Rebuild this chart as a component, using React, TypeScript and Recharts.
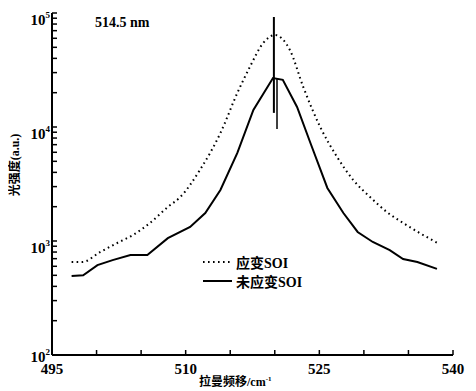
import { LineChart, Line, XAxis, YAxis, Label } from 'recharts';

// Raman shift (cm^-1) and intensity (a.u.)
const STRAINED_SHIFT = [497.2, 498.4, 500.4, 502.3, 504.1, 506.0, 508.0, 509.4, 511.6, 513.9, 515.8, 517.2, 518.7, 520.0, 521.7, 523.2, 525.1, 527.0, 528.8, 530.7, 532.6, 534.4, 536.3, 538.5];
const STRAINED_INTENSITY = [655, 655, 800, 960, 1130, 1440, 1990, 2430, 4200, 8850, 19900, 33600, 54600, 64100, 47300, 22400, 10000, 5450, 3430, 2430, 1790, 1440, 1170, 940];

const UNSTRAINED_SHIFT = [497.2, 498.5, 500.1, 501.8, 503.8, 505.7, 508.0, 510.5, 512.2, 513.9, 515.8, 517.6, 519.8, 520.9, 522.5, 524.0, 525.9, 527.7, 529.3, 531.0, 532.9, 534.4, 536.0, 538.2];
const UNSTRAINED_INTENSITY = [493, 500, 615, 680, 753, 753, 1060, 1330, 1760, 2800, 5920, 14100, 26900, 25900, 15000, 7240, 2920, 1760, 1200, 980, 830, 695, 655, 570];

// reference Si line marks
const SPIKE_A = { shift: 519.9, from: 13300, to: 92200 };
const SPIKE_B = { shift: 520.25, from: 9600, to: 26900 };

const X_TICKS = [495, 500, 505, 510, 515, 520, 525, 530, 535, 540];
const X_LABELED = [495, 510, 525, 540];
const Y_TICKS = [100, 200, 300, 400, 500, 600, 700, 800, 900, 1000, 2000, 3000, 4000, 5000, 6000, 7000, 8000, 9000, 10000, 20000, 30000, 40000, 50000, 60000, 70000, 80000, 90000, 100000];

const SERIES = [
  { key: 'strained', name: '应变SOI', dash: '1.6 3.4' },
  { key: 'unstrained', name: '未应变SOI', dash: '' },
];

const toPoints = (xs: number[], ys: number[]) => xs.map((x, i) => ({ x, y: ys[i] }));
const strainedData = toPoints(STRAINED_SHIFT, STRAINED_INTENSITY);
const unstrainedData = toPoints(UNSTRAINED_SHIFT, UNSTRAINED_INTENSITY);
const spikeA = [{ x: SPIKE_A.shift, y: SPIKE_A.from }, { x: SPIKE_A.shift, y: SPIKE_A.to }];
const spikeB = [{ x: SPIKE_B.shift, y: SPIKE_B.from }, { x: SPIKE_B.shift, y: SPIKE_B.to }];

const NUM_FONT = '"Liberation Serif", "Times New Roman", serif';
const MIX_FONT = '"Liberation Serif", "Noto Sans CJK SC", serif';

function XTick(props: any) {
  const { x, y, payload } = props;
  const v = payload.value;
  return (
    <g>
      <line x1={x} x2={x} y1={y} y2={y - 5} stroke="#000" strokeWidth={1.5} />
      {X_LABELED.includes(v) && (
        <text x={x} y={y + 19} textAnchor="middle" fontFamily={NUM_FONT} fontWeight="bold" fontSize={15} fill="#000">
          {v}
        </text>
      )}
    </g>
  );
}

function YTick(props: any) {
  const { x, y, payload } = props;
  const v = payload.value;
  const exp = Math.log10(v);
  const decade = Math.abs(exp - Math.round(exp)) < 1e-6;
  const dy = v === Y_TICKS[0] ? 7 : 12;
  return (
    <g>
      <line x1={x} x2={x + 5} y1={y} y2={y} stroke="#000" strokeWidth={1.5} />
      {decade && (
        <text x={x - 2} y={y + dy} textAnchor="end" fontFamily={NUM_FONT} fontWeight="bold" fontSize={15} fill="#000">
          <tspan>10</tspan>
          <tspan dy={-7} fontSize={9}>{Math.round(exp)}</tspan>
        </text>
      )}
    </g>
  );
}

function LegendBox() {
  return (
    <div style={{ position: 'absolute', left: 195, top: 244 }}>
      {SERIES.map((s) => (
        <div key={s.key} style={{ display: 'flex', alignItems: 'center', height: 19 }}>
          <svg width={30} height={10} style={{ marginRight: 3 }}>
            <line x1={0} x2={29} y1={5} y2={5} stroke="#000" strokeWidth={2} strokeDasharray={s.dash || undefined} />
          </svg>
          <span style={{ fontFamily: MIX_FONT, fontWeight: 'bold', fontSize: 14, color: '#000' }}>{s.name}</span>
        </div>
      ))}
    </div>
  );
}

export default function App() {
  return (
    <div style={{ position: 'relative', width: 460, height: 383, background: '#fff' }}>
      <LineChart width={460} height={383} margin={{ top: 5, right: 15, left: 0, bottom: 0 }}>
        <XAxis
          type="number"
          dataKey="x"
          domain={[495, 540]}
          ticks={X_TICKS}
          interval={0}
          height={36}
          tickSize={0}
          tickMargin={0}
          tickLine={false}
          tick={<XTick />}
          axisLine={{ stroke: '#000', strokeWidth: 2 }}
          allowDataOverflow
        >
          <Label
            content={({ viewBox }: any) => (
              <text x={viewBox.x + 147} y={viewBox.y + 31} textAnchor="start" fontFamily={MIX_FONT} fontWeight="bold" fontSize={12} fill="#000">
                拉曼频移/cm<tspan dy={-5} fontSize={7}>-1</tspan>
              </text>
            )}
          />
        </XAxis>
        <YAxis
          type="number"
          scale="log"
          domain={[100, 100000]}
          ticks={Y_TICKS}
          interval={0}
          width={44}
          tickSize={0}
          tickMargin={0}
          tickLine={false}
          tick={<YTick />}
          axisLine={{ stroke: '#000', strokeWidth: 2 }}
          allowDataOverflow
        >
          <Label
            content={() => (
              <text x={7} y={157} transform="rotate(-90 7 157)" textAnchor="middle" dominantBaseline="central" fontFamily={MIX_FONT} fontWeight="bold" fontSize={12} fill="#000">
                光强度(a.u.)
              </text>
            )}
          />
        </YAxis>
        <Line data={strainedData} dataKey="y" name="应变SOI" type="monotone" stroke="#000" strokeWidth={2} strokeDasharray="1.6 3.4" dot={false} isAnimationActive={false} />
        <Line data={unstrainedData} dataKey="y" name="未应变SOI" type="linear" stroke="#000" strokeWidth={2} dot={false} isAnimationActive={false} />
        <Line data={spikeA} dataKey="y" stroke="#000" strokeWidth={2} dot={false} legendType="none" isAnimationActive={false} />
        <Line data={spikeB} dataKey="y" stroke="#000" strokeWidth={1.5} dot={false} legendType="none" isAnimationActive={false} />
      </LineChart>
      <LegendBox />
      <div style={{ position: 'absolute', left: 87, top: 7, fontFamily: NUM_FONT, fontWeight: 'bold', fontSize: 14, color: '#000' }}>
        514.5 nm
      </div>
    </div>
  );
}
